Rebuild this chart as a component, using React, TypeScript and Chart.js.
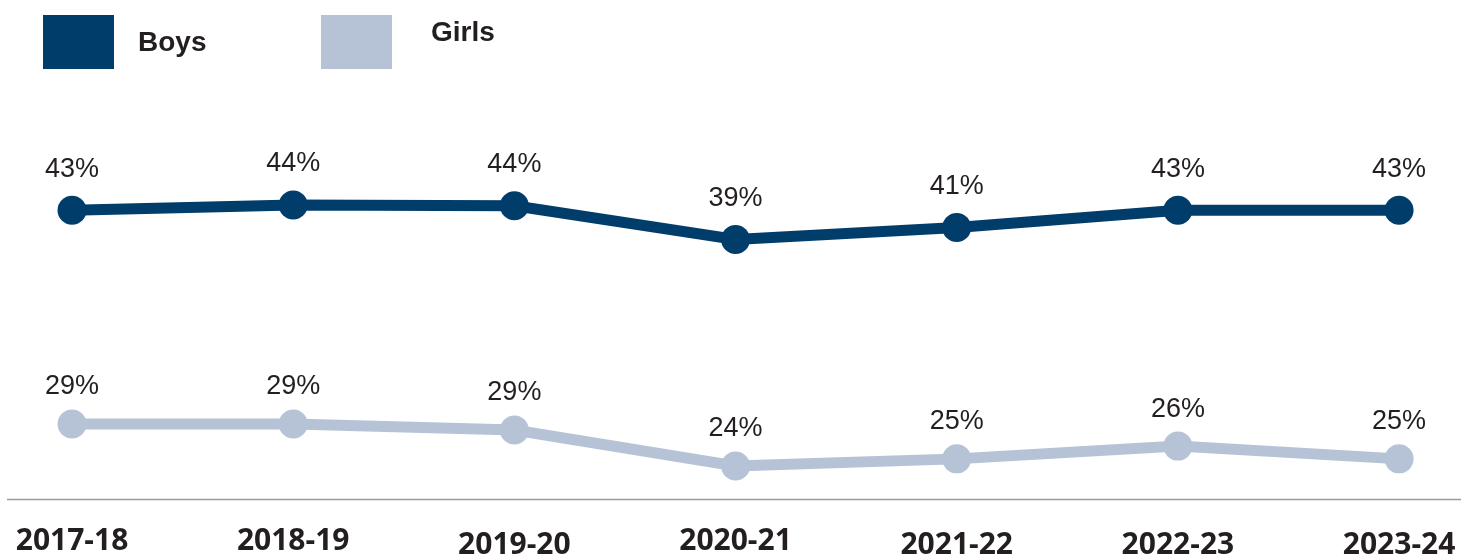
import React, { useEffect, useRef } from 'react';
import { Chart, registerables } from 'chart.js';

Chart.register(...registerables);

const categories = ['2017-18', '2018-19', '2019-20', '2020-21', '2021-22', '2022-23', '2023-24'];
const boysValues = [43.2, 43.9, 43.8, 39.3, 40.9, 43.2, 43.2];
const girlsValues = [29.35, 29.35, 28.55, 23.75, 24.7, 26.4, 24.7];
const seriesNames = ['Boys', 'Girls'];

const BOYS_COLOR = 'rgb(0, 61, 107)';
const GIRLS_COLOR = 'rgb(182, 195, 214)';
const TEXT_COLOR = '#231f20';

// style: per-label vertical offsets below the axis line, legend placement
const tickOffsets = [42, 42, 46, 42.5, 46, 46, 46];
const legendBoxX = [43, 321];
const legendTextX = [138, 431];
const legendTextY = [43, 33];
const labelLift = [41, 37];

const overlayPlugin = {
  id: 'overlay',
  beforeDatasetsDraw(chart: any) {
    const { ctx, chartArea } = chart;
    ctx.save();
    ctx.strokeStyle = '#9b9b9b';
    ctx.lineWidth = 1.5;
    ctx.beginPath();
    ctx.moveTo(chartArea.left, chartArea.bottom + 0.5);
    ctx.lineTo(chart.width, chartArea.bottom + 0.5);
    ctx.stroke();
    ctx.restore();
  },
  afterDatasetsDraw(chart: any) {
    const { ctx, chartArea } = chart;
    ctx.save();
    // data labels
    ctx.font = '27px "Liberation Sans", Arial, sans-serif';
    ctx.fillStyle = TEXT_COLOR;
    ctx.textAlign = 'center';
    ctx.textBaseline = 'middle';
    chart.data.datasets.forEach((ds: any, di: number) => {
      const meta = chart.getDatasetMeta(di);
      meta.data.forEach((pt: any, i: number) => {
        const v = ds.data[i].y;
        ctx.fillText(Math.round(v) + '%', pt.x, pt.y - labelLift[di]);
      });
    });
    // x labels
    const xs = chart.scales.x;
    ctx.font = '700 30px "Open Sans", sans-serif';
    categories.forEach((c, i) => {
      ctx.fillText(c, xs.getPixelForValue(i), chartArea.bottom + tickOffsets[i]);
    });
    // legend
    chart.data.datasets.forEach((ds: any, di: number) => {
      ctx.fillStyle = ds.borderColor;
      ctx.fillRect(legendBoxX[di], 15, 71, 54);
      ctx.fillStyle = TEXT_COLOR;
      ctx.font = 'bold 28px "Liberation Sans", Arial, sans-serif';
      ctx.textAlign = 'left';
      ctx.fillText(ds.label, legendTextX[di], legendTextY[di]);
    });
    ctx.restore();
  },
};

export default function App() {
  const canvasRef = useRef<HTMLCanvasElement>(null);

  useEffect(() => {
    if (!canvasRef.current) return;
    const chart = new Chart(canvasRef.current, {
      type: 'line',
      data: {
        datasets: [
          {
            label: seriesNames[0],
            data: boysValues.map((v, i) => ({ x: i, y: v })),
            borderColor: BOYS_COLOR,
            backgroundColor: BOYS_COLOR,
            borderWidth: 11,
            pointRadius: 14.5,
            pointHoverRadius: 14.5,
            pointBorderWidth: 0,
            tension: 0,
            yAxisID: 'yB',
            clip: false,
          },
          {
            label: seriesNames[1],
            data: girlsValues.map((v, i) => ({ x: i, y: v })),
            borderColor: GIRLS_COLOR,
            backgroundColor: GIRLS_COLOR,
            borderWidth: 11,
            pointRadius: 14.5,
            pointHoverRadius: 14.5,
            pointBorderWidth: 0,
            tension: 0,
            yAxisID: 'yG',
            clip: false,
          },
        ],
      },
      options: {
        animation: false,
        responsive: false,
        layout: { autoPadding: false, padding: { left: 7, right: 0, top: 0, bottom: 57 } },
        plugins: { legend: { display: false }, tooltip: { enabled: false } },
        events: [],
        scales: {
          x: { type: 'linear', min: -0.294, max: 6.28, display: false },
          yB: { type: 'linear', min: 4.7, max: 71.23, display: false },
          yG: { type: 'linear', min: 19.35, max: 85.88, display: false },
        },
      },
      plugins: [overlayPlugin],
    } as any);
    return () => chart.destroy();
  }, []);

  return (
    <div style={{ position: 'absolute', left: 0, top: 0, width: 1461, height: 556, background: '#fff' }}>
      <canvas ref={canvasRef} width={1461} height={556} style={{ display: 'block' }} />
    </div>
  );
}
